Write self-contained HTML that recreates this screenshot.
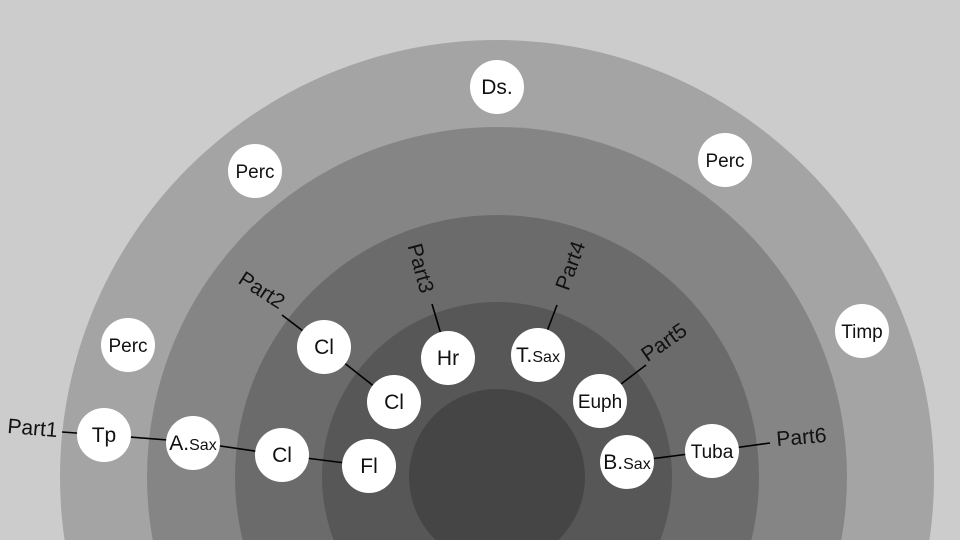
<!DOCTYPE html>
<html><head><meta charset="utf-8"><style>
html,body{margin:0;padding:0;background:#cccccc;width:960px;height:540px;overflow:hidden;}
svg{display:block;overflow:hidden}
text{font-family:"Liberation Sans",sans-serif;fill:#111;}
</style></head><body>
<svg width="960" height="540" viewBox="0 0 960 540">
<defs><clipPath id="c"><rect width="960" height="540"/></clipPath></defs>
<rect width="960" height="540" fill="#cccccc"/>
<g clip-path="url(#c)">
<circle cx="497" cy="477" r="437" fill="#a4a4a4"/>
<circle cx="497" cy="477" r="350" fill="#858585"/>
<circle cx="497" cy="477" r="262" fill="#6b6b6b"/>
<circle cx="497" cy="477" r="175" fill="#575757"/>
<circle cx="497" cy="477" r="88" fill="#454545"/>
</g>
<g stroke="#000" stroke-width="1.6">
<line x1="62" y1="432" x2="104" y2="435"/>
<line x1="104" y1="435" x2="193" y2="442"/>
<line x1="193" y1="442" x2="282" y2="455"/>
<line x1="282" y1="455" x2="369" y2="466"/>
<line x1="282" y1="315" x2="324" y2="347"/>
<line x1="324" y1="347" x2="394" y2="402"/>
<line x1="432" y1="304" x2="448" y2="358"/>
<line x1="557" y1="305" x2="538" y2="355"/>
<line x1="646" y1="365" x2="600" y2="400"/>
<line x1="627" y1="462" x2="712" y2="451"/>
<line x1="712" y1="451" x2="770" y2="443"/>
</g>
<g fill="#fff">
<circle cx="497" cy="87" r="27"/><circle cx="255" cy="171" r="27"/><circle cx="725" cy="160" r="27"/>
<circle cx="128" cy="345" r="27"/><circle cx="862" cy="331" r="27"/><circle cx="104" cy="435" r="27"/>
<circle cx="193" cy="443" r="27"/><circle cx="282" cy="455" r="27"/><circle cx="369" cy="466" r="27"/>
<circle cx="324" cy="347" r="27"/><circle cx="394" cy="402" r="27"/><circle cx="448" cy="358" r="27"/>
<circle cx="538" cy="355" r="27"/><circle cx="600" cy="401" r="27"/><circle cx="627" cy="462" r="27"/>
<circle cx="712" cy="451" r="27"/>
</g>
<g font-size="21" text-anchor="middle">
<text x="497" y="94">Ds.</text>
<text x="255" y="178" font-size="19">Perc</text>
<text x="725" y="167" font-size="19">Perc</text>
<text x="128" y="352" font-size="19">Perc</text>
<text x="862" y="338" font-size="19">Timp</text>
<text x="104" y="442">Tp</text>
<text x="193" y="450">A.<tspan font-size="16">Sax</tspan></text>
<text x="282" y="462">Cl</text>
<text x="369" y="473">Fl</text>
<text x="324" y="354">Cl</text>
<text x="394" y="409">Cl</text>
<text x="448" y="365">Hr</text>
<text x="538" y="362">T.<tspan font-size="16">Sax</tspan></text>
<text x="600" y="408" font-size="19">Euph</text>
<text x="627" y="469">B.<tspan font-size="16">Sax</tspan></text>
<text x="712" y="458" font-size="19">Tuba</text>
<text transform="translate(32,435) rotate(5)">Part1</text>
<text transform="translate(258,296) rotate(33)">Part2</text>
<text transform="translate(414,270) rotate(75)">Part3</text>
<text transform="translate(577,268) rotate(-70)">Part4</text>
<text transform="translate(668,348) rotate(-35)">Part5</text>
<text transform="translate(802,444) rotate(-5)">Part6</text>
</g>
</svg>
</body></html>
